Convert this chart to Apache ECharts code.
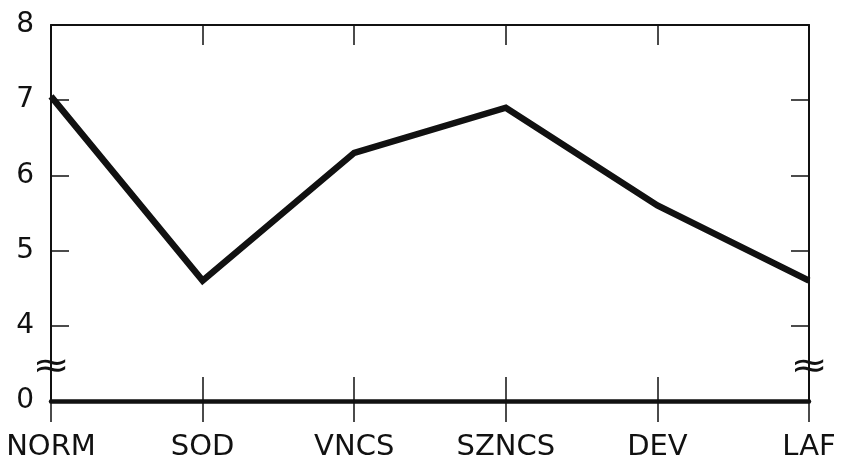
<!DOCTYPE html>
<html>
<head>
<meta charset="utf-8">
<style>html,body{margin:0;padding:0;background:#fff}#c{width:842px;height:462px}</style>
<script src="https://cdn.jsdelivr.net/npm/echarts@6/dist/echarts.min.js"></script>
</head>
<body>
<div id="c"></div>
<script>
// Data
var categories = ['NORM', 'SOD', 'VNCS', 'SZNCS', 'DEV', 'LAF'];
var values = [7.05, 4.6, 6.3, 6.9, 5.6, 4.6];
// Axis: broken axis; the bottom position (axis value 3) is labelled "0"
var yTickLabels = { 3: '0', 4: '4', 5: '5', 6: '6', 7: '7', 8: '8' };
var yLabelValues = [3, 4, 5, 6, 7, 8];
var yTickValues = [4, 5, 6, 7];
var breakAt = 3.45;

var FONT = 'DejaVu Sans';
var ink = '#111';
var chart = echarts.init(document.getElementById('c'), null, { renderer: 'canvas' });
chart.setOption({
  animation: false,
  backgroundColor: '#fff',
  grid: { left: 51, right: 33, top: 25, bottom: 60, containLabel: false },
  xAxis: [
    {
      type: 'category', data: categories, boundaryGap: false, position: 'bottom',
      axisLine: { onZero: false, lineStyle: { color: ink, width: 4.5 } },
      axisTick: { inside: true, length: 24, alignWithLabel: true, lineStyle: { color: ink, width: 1.5 } },
      axisLabel: { color: ink, fontFamily: FONT, fontSize: 29, margin: 32 },
      splitLine: { show: false }
    },
    {
      type: 'category', data: categories, boundaryGap: false, position: 'bottom', offset: 0,
      axisLine: { show: false, onZero: false },
      axisTick: { inside: false, length: 21, lineStyle: { color: ink, width: 1.5 } },
      axisLabel: { show: false },
      splitLine: { show: false }
    },
    {
      type: 'category', data: categories, boundaryGap: false, position: 'top',
      axisLine: { onZero: false, lineStyle: { color: ink, width: 2 } },
      axisTick: { inside: true, length: 20, lineStyle: { color: ink, width: 1.5 } },
      axisLabel: { show: false },
      splitLine: { show: false }
    }
  ],
  yAxis: [
    {
      type: 'value', min: 3, max: 8, interval: 1, position: 'left',
      axisLine: { show: true, onZero: false, lineStyle: { color: ink, width: 2 } },
      axisTick: { show: true, inside: true, length: 18, customValues: yTickValues, lineStyle: { color: ink, width: 1.5 } },
      axisLabel: { color: ink, fontFamily: FONT, fontSize: 28, margin: 17, customValues: yLabelValues,
        formatter: function (v) { return yTickLabels[v] !== undefined ? yTickLabels[v] : ''; } },
      splitLine: { show: false }
    },
    {
      type: 'value', min: 3, max: 8, interval: 1, position: 'right',
      axisLine: { show: true, onZero: false, lineStyle: { color: ink, width: 2 } },
      axisTick: { show: true, inside: true, length: 18, customValues: yTickValues, lineStyle: { color: ink, width: 1.5 } },
      axisLabel: { show: false },
      splitLine: { show: false }
    }
  ],
  series: [{
    type: 'line', xAxisIndex: 0, yAxisIndex: 0, data: values,
    symbol: 'none', lineStyle: { color: ink, width: 6.5, join: 'miter' }
  }]
});

// Axis-break marks, placed through the axis scale
var yb = chart.convertToPixel({ yAxisIndex: 0 }, breakAt);
var xl = chart.convertToPixel({ xAxisIndex: 0 }, categories[0]);
var xr = chart.convertToPixel({ xAxisIndex: 0 }, categories[categories.length - 1]);
function breakMark(x) {
  return {
    type: 'text', x: x, y: yb, scaleX: 1.25,
    style: { text: '≈', fontSize: 36, fontFamily: FONT, fill: ink, align: 'center', verticalAlign: 'middle' },
    z: 10
  };
}
chart.setOption({ graphic: [breakMark(xl), breakMark(xr)] });
</script>
</body>
</html>
